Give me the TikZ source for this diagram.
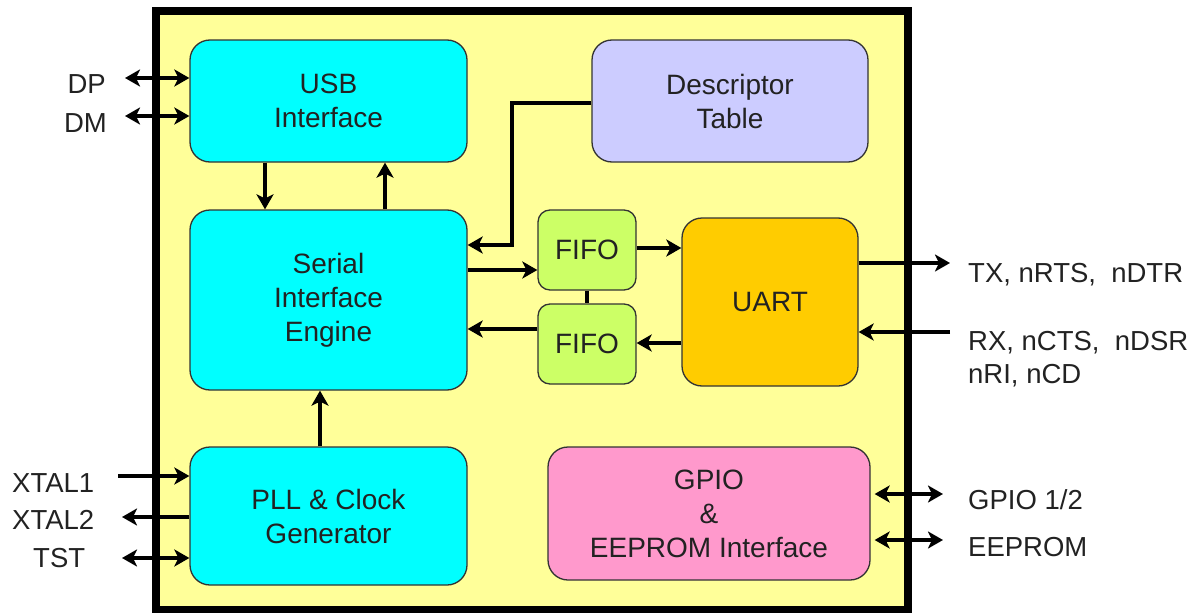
\documentclass[tikz,border=0pt]{standalone}
\usepackage{fontspec}
\setmainfont{Liberation Sans}
\usetikzlibrary{arrows.meta}
\definecolor{chip}{HTML}{FFFF99}
\definecolor{cyanbox}{HTML}{00FFFF}
\definecolor{lav}{HTML}{CCCCFF}
\definecolor{fifo}{HTML}{CCFF66}
\definecolor{uart}{HTML}{FFCC00}
\definecolor{pinkbox}{HTML}{FF99CC}
\definecolor{txt}{HTML}{222222}
\tikzset{
  blk/.style={draw=black!80, line width=1.3pt, rounded corners=20pt, align=center,
    inner sep=0pt, text=txt, font=\fontsize{28}{34}\selectfont},
  lbl/.style={text=txt, inner sep=0pt, font=\fontsize{27.5}{33}\selectfont},
  tip/.tip={Stealth[length=15pt,width=17pt,inset=4pt]},
  arr/.style={line width=4pt, -tip},
  dbl/.style={line width=4pt, tip-tip},
  plain/.style={line width=4pt}
}
\begin{document}
\begin{tikzpicture}[x=1pt,y=-1pt]
\useasboundingbox (0,0) rectangle (1195,613);
\draw[line width=8pt, fill=chip] (155.5,11) rectangle (907.5,610);

\node[blk, fill=cyanbox, minimum width=277pt, minimum height=122pt] (USB) at (328.5,101) {USB\\Interface};
\node[blk, fill=lav, minimum width=276pt, minimum height=122pt] (Desc) at (730,101) {Descriptor\\Table};
\node[blk, fill=cyanbox, minimum width=277pt, minimum height=180pt] (SIE) at (328.5,300) {Serial\\Interface\\Engine};
\node[blk, fill=fifo, rounded corners=12pt, minimum width=98pt, minimum height=80pt] (F1) at (587,250) {FIFO};
\node[blk, fill=fifo, rounded corners=12pt, minimum width=98pt, minimum height=80pt] (F2) at (587,344) {FIFO};
\node[blk, fill=uart, minimum width=176pt, minimum height=168pt] (UART) at (770,302) {UART};
\node[blk, fill=cyanbox, minimum width=277pt, minimum height=138pt] (PLL) at (328.5,516) {PLL \& Clock\\Generator};
\node[blk, fill=pinkbox, minimum width=322pt, minimum height=133pt] (GPIO) at (709,513.5) {GPIO\\\&\\EEPROM Interface};

% outside labels
\node[lbl, anchor=base east] (tDP) at (106,93) {DP};
\node[lbl, anchor=base east] (tDM) at (107,132) {DM};
\node[lbl, anchor=base west] (tX1) at (12,492) {XTAL1};
\node[lbl, anchor=base west] (tX2) at (12,529) {XTAL2};
\node[lbl, anchor=base west] (tTST) at (33,567) {TST};
\node[lbl, anchor=base west] (tTX) at (968,282) {TX, nRTS,\ \ nDTR};
\node[lbl, anchor=base west] (tRX) at (968,350) {RX, nCTS,\ \ nDSR};
\node[lbl, anchor=base west] (tRI) at (968,383) {nRI, nCD};
\node[lbl, anchor=base west] (tGP) at (968,509) {GPIO 1/2};
\node[lbl, anchor=base west] (tEE) at (968,556) {EEPROM};

% free ends
\coordinate (dpL) at (125,78);
\coordinate (dmL) at (125,116);
\coordinate (x1L) at (118,476);
\coordinate (x2L) at (122,517);
\coordinate (tsL) at (122,558);
\coordinate (txR) at (950,263);
\coordinate (rxR) at (950,332);
\coordinate (gpR) at (943,494);
\coordinate (eeR) at (943,540);
\coordinate (dtC) at (512,103);

% external connectors
\draw[dbl] (dpL) -- (dpL -| USB.west);
\draw[dbl] (dmL) -- (dmL -| USB.west);
\draw[arr] (x1L) -- (x1L -| PLL.west);
\draw[arr] (x2L -| PLL.west) -- (x2L);
\draw[dbl] (tsL) -- (tsL -| PLL.west);
\draw[arr] (txR -| UART.east) -- (txR);
\draw[arr] (rxR) -- (rxR -| UART.east);
\draw[dbl, shorten <=4pt] (gpR -| GPIO.east) -- (gpR);
\draw[dbl, shorten <=4pt] (eeR -| GPIO.east) -- (eeR);

% internal connectors
\draw[arr] ([xshift=-63.5pt]USB.south) -- ([xshift=-63.5pt]USB.south |- SIE.north);
\draw[arr] ([xshift=56.5pt]SIE.north) -- ([xshift=56.5pt]SIE.north |- USB.south);
\draw[arr] (Desc.west |- dtC) -- (dtC) |- ([yshift=55pt]SIE.east);
\draw[arr] ([yshift=30pt]SIE.east) -- ([yshift=30pt]SIE.east -| F1.west);
\draw[arr] ([yshift=2pt]F1.east) -- ([yshift=2pt]F1.east -| UART.west);
\draw[arr] ([yshift=1pt]F2.east -| UART.west) -- ([yshift=1pt]F2.east);
\draw[arr] ([yshift=15pt]F2.west) -- ([yshift=15pt]F2.west -| SIE.east);
\draw[plain] (F1.south) -- (F2.north);
\draw[arr] ([xshift=-8.5pt]PLL.north) -- ([xshift=-8.5pt]PLL.north |- SIE.south);
\end{tikzpicture}
\end{document}
